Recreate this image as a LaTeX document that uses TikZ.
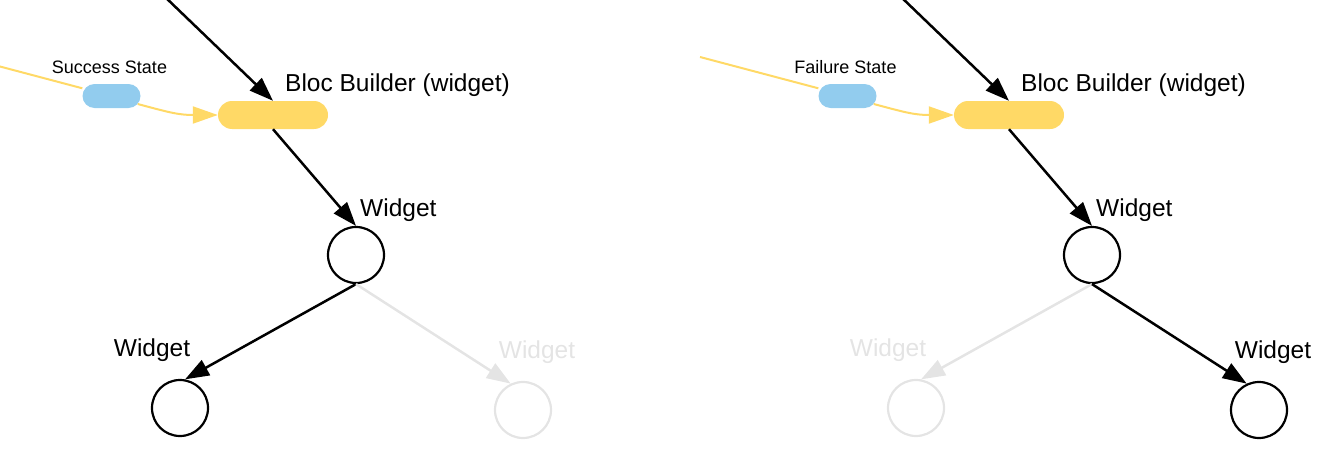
\documentclass[tikz,border=0pt]{standalone}
\usepackage{fontspec}
\setmainfont{Liberation Sans}
\usetikzlibrary{arrows.meta,positioning}
\definecolor{pill}{RGB}{255,217,102}
\definecolor{state}{RGB}{146,204,238}
\definecolor{faded}{RGB}{228,228,228}
\tikzset{
  big/.style={inner sep=0pt,font=\fontsize{24.5}{29}\selectfont},
  small/.style={inner sep=0pt,font=\fontsize{18}{22}\selectfont},
  wnode/.style={circle,draw,line width=2.2pt,minimum size=56pt,inner sep=0pt},
  warr/.style={line width=2.5pt,-{Triangle[length=24pt,width=17pt]}},
  yline/.style={line width=2pt,draw=pill},
  yarr/.style={yline,-{Triangle[length=25pt,width=17pt]}},
}
\begin{document}
\begin{tikzpicture}[x=1pt,y=-1pt]
  \useasboundingbox (0,0) rectangle (1322,460);

  \foreach \dx/\st/\lc/\rc in {0/Success State/black/faded,736/Failure State/faded/black} {
    \begin{scope}[shift={(\dx,0)}]
      \coordinate (top) at (137,-30);
      \coordinate (feed) at (-36,57);

      \node[fill=pill,rounded corners=14pt,minimum width=110pt,minimum height=28pt,inner sep=0pt] (bb) at (273,115) {};
      \node[fill=state,rounded corners=12pt,minimum width=58pt,minimum height=24pt,inner sep=0pt] (st) at (111.5,96) {};
      \node[big,above right=4pt and 12pt of bb.north] {Bloc Builder (widget)};
      \node[small,above=10pt of st.north,xshift=-2pt] {\st};

      \node[wnode] (w) at (356,255) {};
      \node[wnode,draw=\lc] (wl) at (180,408) {};
      \node[wnode,draw=\rc] (wr) at (523,410) {};
      \node[big,above right=4pt and 4pt of w.north] {Widget};
      \node[big,text=\lc,above=17pt of wl.north,xshift=-28pt] {Widget};
      \node[big,text=\rc,above=17pt of wr.north,xshift=14pt] {Widget};

      \draw[yline] (feed) -- (st);
      \draw[yarr] ([xshift=-3pt,yshift=-8pt]st.east) .. controls +(30,8) and +(-40,0) .. (bb.west);

      \draw[warr] (top) -- (bb.north);
      \draw[warr] (bb.south) -- (w.north);
      \draw[warr,draw=\lc] (w.south) -- (wl.80);
      \draw[warr,draw=\rc] (w.south) -- (wr.115);
    \end{scope}
  }
\end{tikzpicture}
\end{document}
